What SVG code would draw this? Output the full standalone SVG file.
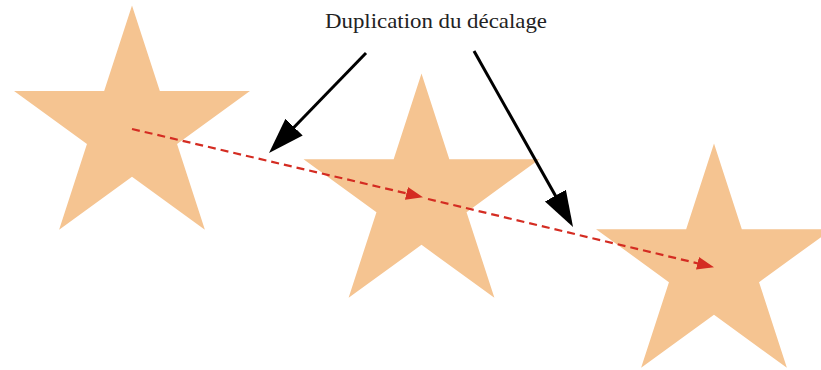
<svg xmlns="http://www.w3.org/2000/svg" xmlns:xlink="http://www.w3.org/1999/xlink" width="821" height="370" viewBox="0 0 821 370">
<style>
.star{fill:#f5c491;stroke:none}
.offset{fill:none;stroke:#d42c22;stroke-width:2.2;stroke-dasharray:8 5}
.callout{fill:none;stroke:#000;stroke-width:3}
.label{font-family:"Liberation Serif","Times New Roman",serif;font-size:21px;fill:#222}
</style>
<defs>
<path id="starShape" class="star" d="M0,-124 L27.84,-38.32 L117.94,-38.32 L45.05,14.64 L72.89,100.32 L0,47.37 L-72.89,100.32 L-45.05,14.64 L-117.94,-38.32 L-27.84,-38.32 Z"/>
<marker id="redHead" markerUnits="userSpaceOnUse" markerWidth="18" markerHeight="14" refX="13" refY="6.5" orient="auto" viewBox="0 0 18 14">
<path d="M0,0 L17,6.5 L0,13 Z" fill="#d42c22"/>
</marker>
<marker id="blackHead" markerUnits="userSpaceOnUse" markerWidth="40" markerHeight="26" refX="30" refY="12" orient="auto" viewBox="0 0 40 26">
<path d="M0,0 L36,12 L0,24 Z" fill="#000"/>
</marker>
</defs>
<rect width="821" height="370" fill="#fff"/>
<g id="star1"><use xlink:href="#starShape" href="#starShape" x="132" y="129.4"/></g>
<g id="star2"><use xlink:href="#starShape" href="#starShape" x="421.5" y="197.5"/></g>
<g id="star3"><use xlink:href="#starShape" href="#starShape" x="714" y="267.5"/></g>
<g id="label"><text class="label" x="325" y="28" textLength="222" lengthAdjust="spacingAndGlyphs">Duplication du décalage</text></g>
<g id="connectors">
<line class="offset" x1="132" y1="129" x2="419.1" y2="196.3" marker-end="url(#redHead)"/>
<line class="offset" x1="428" y1="199" x2="710.1" y2="266.3" marker-end="url(#redHead)"/>
<line class="callout" x1="366" y1="53" x2="273.2" y2="148.7" marker-end="url(#blackHead)"/>
<line class="callout" x1="474" y1="51" x2="570.1" y2="221.8" marker-end="url(#blackHead)"/>
</g>
</svg>
